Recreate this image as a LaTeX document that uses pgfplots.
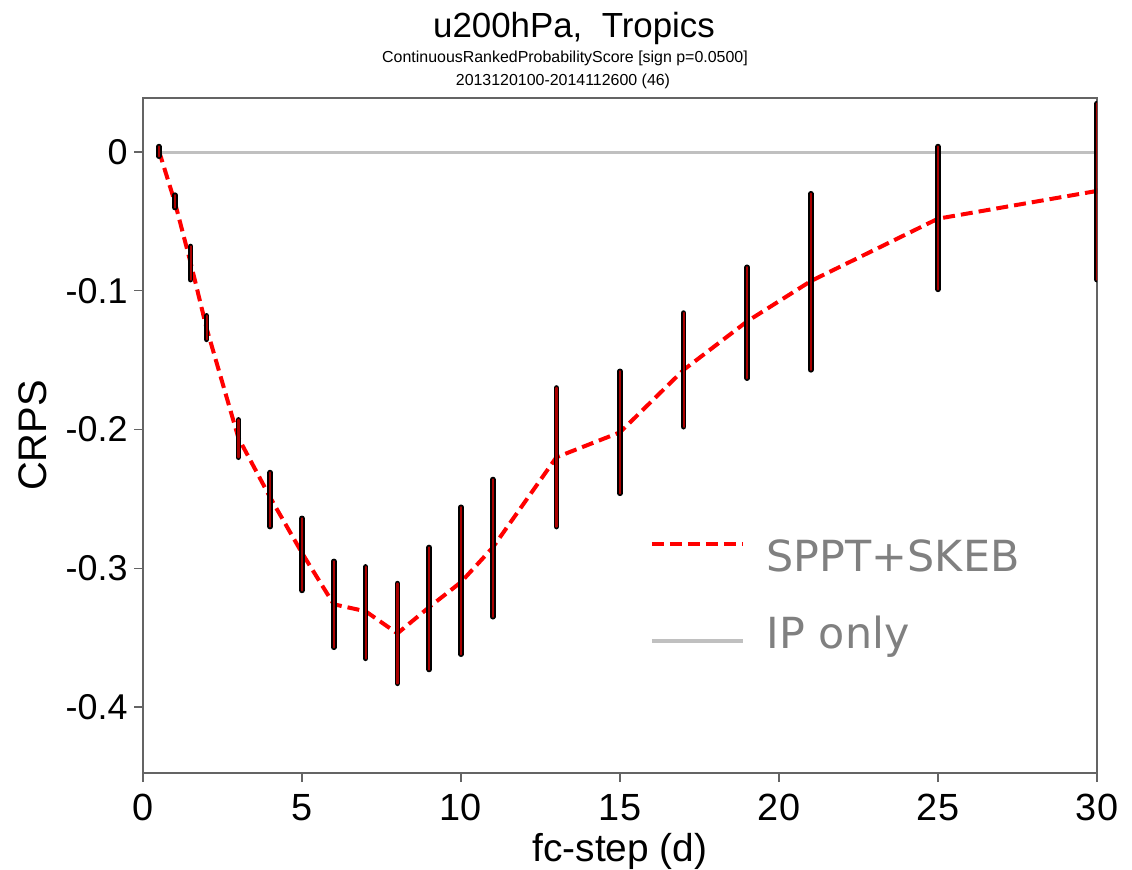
\documentclass[border=0pt]{standalone}
\usepackage{pgfplots}
\pgfplotsset{compat=1.18}
\usepackage{pgfplotstable}
\usepackage{fontspec}
\setmainfont{Liberation Sans}
\newfontfamily\dejavu{DejaVu Sans}
\definecolor{ipgray}{RGB}{192,192,192}
\definecolor{axgray}{RGB}{100,100,100}
\definecolor{legtext}{RGB}{128,128,128}
\definecolor{barred}{RGB}{170,0,0}

\pgfplotstableread{
x    y      lo      hi
0.5  0.001  -0.003  0.004
1    -0.036 -0.040  -0.031
1.5  -0.080 -0.092  -0.068
2    -0.127 -0.135  -0.118
3    -0.206 -0.220  -0.193
4    -0.249 -0.270  -0.231
5    -0.289 -0.316  -0.264
6    -0.326 -0.357  -0.295
7    -0.331 -0.365  -0.299
8    -0.347 -0.383  -0.311
9    -0.328 -0.373  -0.285
10   -0.310 -0.362  -0.256
11   -0.285 -0.335  -0.236
13   -0.220 -0.270  -0.170
15   -0.202 -0.246  -0.158
17   -0.157 -0.198  -0.116
19   -0.122 -0.163  -0.083
21   -0.093 -0.157  -0.030
25   -0.048 -0.099  0.004
30   -0.028 -0.092  0.035
}\crps

\begin{document}
\begin{tikzpicture}
\begin{axis}[
  at={(143bp,97bp)}, anchor=south west,
  width=954bp, height=675bp, scale only axis,
  xmin=0, xmax=30, ymin=-0.4476, ymax=0.039,
  xtick={0,5,10,15,20,25,30},
  xticklabels={0,5,10,15,20,25,30},
  ytick={-0.4,-0.3,-0.2,-0.1,0},
  yticklabels={-0.4,-0.3,-0.2,-0.1,0},
  tick pos=left, tick align=outside,
  major tick length=9bp,
  tick style={axgray, line width=1.2bp},
  axis line style={axgray, line width=1.5bp},
  x tick label style={font=\fontsize{38}{40}\selectfont, yshift=-9bp},
  y tick label style={font=\fontsize{36}{38}\selectfont, xshift=-3bp},
  xlabel={fc-step (d)},
  xlabel style={font=\fontsize{39}{42}\selectfont, yshift=-5bp},
  ylabel={CRPS},
  ylabel style={font=\fontsize{40}{42}\selectfont, yshift=12bp, xshift=0bp},
  legend style={draw=none, fill=none, at={(rel axis cs:0.531,0.349)}, anchor=north west,
    font=\dejavu\fontsize{43}{50}\selectfont, text=legtext,
    row sep=39bp, inner sep=0pt,
    /tikz/every odd column/.style={column sep=20bp}},
  legend cell align=left,
]
\addplot[ipgray, line width=3bp, forget plot] coordinates {(0.5,0) (30,0)};
\addplot[red, line width=4bp, dash pattern=on 12bp off 6bp,
  legend image code/.code={\draw[red, line width=4bp, dash pattern=on 12bp off 6bp] (0bp,12bp) -- (91bp,12bp);}] table[x=x,y=y] {\crps};
\addlegendentry{SPPT+SKEB}
\addlegendimage{legend image code/.code={\draw[ipgray, line width=4bp] (0bp,-8bp) -- (91bp,-8bp);}}
\addlegendentry{IP only}
\addplot[draw=none, no markers, forget plot,
  error bars/.cd, y dir=both, y explicit, error mark=none,
  error bar style={line width=5.5bp, black, line cap=round}]
  table[x=x, y=y, y error plus expr=\thisrow{hi}-\thisrow{y}, y error minus expr=\thisrow{y}-\thisrow{lo}] {\crps};
\addplot[draw=none, no markers, forget plot,
  error bars/.cd, y dir=both, y explicit, error mark=none,
  error bar style={line width=2.2bp, barred, line cap=round}]
  table[x=x, y=y, y error plus expr=\thisrow{hi}-\thisrow{y}, y error minus expr=\thisrow{y}-\thisrow{lo}] {\crps};
\end{axis}
\node[font=\fontsize{35}{38}\selectfont] at (574bp,842bp) {u200hPa,\ \ Tropics};
\node[font=\fontsize{16}{18}\selectfont] at (565bp,812bp) {ContinuousRankedProbabilityScore [sign p=0.0500]};
\node[font=\fontsize{16}{18}\selectfont] at (563bp,789bp) {2013120100-2014112600 (46)};
\pgfresetboundingbox
\useasboundingbox (0bp,0bp) rectangle (1132bp,870bp);
\end{tikzpicture}
\end{document}
